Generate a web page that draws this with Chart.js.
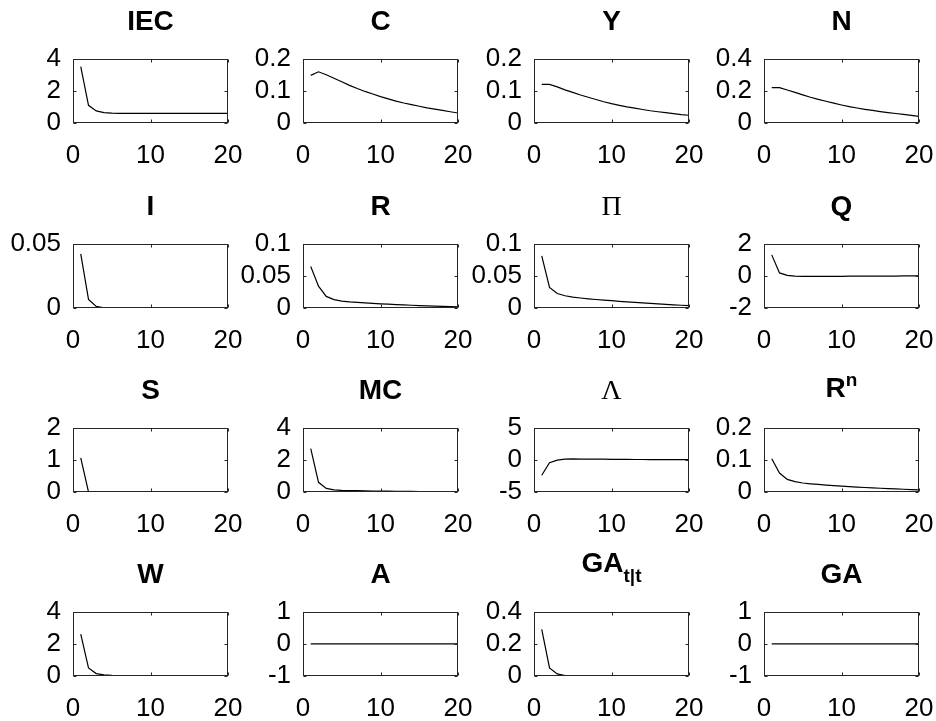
<!DOCTYPE html>
<html><head><meta charset="utf-8">
<script src="https://cdn.jsdelivr.net/npm/chart.js@4.4.0/dist/chart.umd.min.js"></script>
<style>
body{margin:0;background:#fff;width:936px;height:721px;position:relative;overflow:hidden;font-family:"Liberation Sans",Arial,Helvetica,sans-serif}
canvas{position:absolute}
.t{position:absolute;text-align:center;font-weight:bold;font-size:28px;color:#000;line-height:28px;white-space:nowrap;width:155px}
.t sup,.t sub{font-size:19px;line-height:0}
.t sup{vertical-align:11px}
.t sub{vertical-align:-10px}
.g{font-family:"Liberation Serif","Times New Roman",serif;font-weight:normal}
</style></head><body>
<script>
// ---- data (impulse responses, periods 1..20) ----
const periods = [1,2,3,4,5,6,7,8,9,10,11,12,13,14,15,16,17,18,19,20];
const xTickValues = [0,10,20];

const iecVals = [3.5,1.1,0.75,0.64,0.61,0.6,0.6,0.6,0.6,0.6,0.6,0.6,0.6,0.6,0.6,0.6,0.6,0.6,0.6,0.6];
const cVals   = [0.148,0.159,0.150,0.139,0.128,0.117,0.107,0.098,0.090,0.082,0.075,0.068,0.062,0.057,0.052,0.047,0.043,0.039,0.035,0.031];
const yVals   = [0.120,0.120,0.112,0.103,0.095,0.087,0.080,0.073,0.066,0.060,0.055,0.050,0.046,0.042,0.038,0.035,0.032,0.029,0.026,0.024];
const nVals   = [0.22,0.22,0.205,0.19,0.175,0.16,0.147,0.135,0.123,0.112,0.102,0.093,0.085,0.078,0.071,0.065,0.059,0.054,0.047,0.041];
const iVals   = [0.042,0.0067,0.0012,0.0002,0.00003,0,0,0,0,0,0,0,0,0,0,0,0,0,0,0];
const rVals   = [0.0645,0.034,0.018,0.013,0.0108,0.0096,0.0087,0.0079,0.0072,0.0065,0.0059,0.0053,0.0048,0.0043,0.0038,0.0033,0.0029,0.0025,0.0021,0.0017];
const piVals  = [0.081,0.032,0.0225,0.019,0.0168,0.0155,0.0143,0.0132,0.0122,0.0113,0.0104,0.0095,0.0087,0.0079,0.0071,0.0064,0.0057,0.0050,0.0043,0.0037];
const qVals   = [1.3,0.18,0.03,-0.02,-0.03,-0.03,-0.03,-0.03,-0.03,-0.03,-0.025,-0.025,-0.02,-0.02,-0.02,-0.015,-0.015,-0.01,-0.01,-0.01];
const sVals   = [1.06,0,0,0,0,0,0,0,0,0,0,0,0,0,0,0,0,0,0,0];
const mcVals  = [2.7,0.6,0.22,0.13,0.1,0.09,0.08,0.07,0.06,0.055,0.05,0.045,0.04,0.035,0.03,0.027,0.024,0.02,0.017,0.015];
const lamVals = [-2.4,-0.45,-0.05,0.1,0.13,0.12,0.11,0.1,0.09,0.08,0.07,0.06,0.05,0.05,0.04,0.04,0.03,0.03,0.02,0.02];
const rnVals  = [0.103,0.059,0.039,0.032,0.028,0.0255,0.0235,0.0215,0.0198,0.0182,0.0167,0.0153,0.014,0.0128,0.0116,0.0105,0.0095,0.0085,0.0076,0.0068];
const wVals   = [2.6,0.5,0.15,0.07,0.04,0.03,0.02,0.015,0.01,0.01,0.008,0.006,0.005,0.004,0.003,0.003,0.002,0.002,0.001,0.001];
const aVals   = [0,0,0,0,0,0,0,0,0,0,0,0,0,0,0,0,0,0,0,0];
const gattVals= [0.29,0.05,0.013,0.003,0.0007,0,0,0,0,0,0,0,0,0,0,0,0,0,0,0];
const gaVals  = [0,0,0,0,0,0,0,0,0,0,0,0,0,0,0,0,0,0,0,0];

// titles and y tick labels per panel
const titles = ['IEC','C','Y','N','I','R','<span class="g">&Pi;</span>','Q','S','MC','<span class="g">&Lambda;</span>','R<sup>n</sup>','W','A','GA<sub>t|t</sub>','GA'];
const seriesList = [iecVals,cVals,yVals,nVals,iVals,rVals,piVals,qVals,sVals,mcVals,lamVals,rnVals,wVals,aVals,gattVals,gaVals];
const yTickLists = [
  [0,2,4],[0,0.1,0.2],[0,0.1,0.2],[0,0.2,0.4],
  [0,0.05],[0,0.05,0.1],[0,0.05,0.1],[-2,0,2],
  [0,1,2],[0,2,4],[-5,0,5],[0,0.1,0.2],
  [0,2,4],[-1,0,1],[0,0.2,0.4],[-1,0,1]
];

// ---- layout ----
const colLeft = [73,303,534,764];
const rowTop  = [43,228,412,596];
const PW = 155, PH = 80;
const YAXW = 70, PADT = 12, PADR = 40, XAXH = 48;

const tickFont = {family:'"Liberation Sans", Arial, Helvetica, sans-serif', size:26};

const framePlugin = {
  id:'frame',
  afterDatasetsDraw(chart){
    const {ctx, chartArea:a, scales} = chart;
    const L = Math.round(a.left)+0.5, R = Math.round(a.right)-0.5, T = Math.round(a.top)+0.5, B = Math.round(a.bottom)-0.5;
    ctx.save();
    ctx.strokeStyle = '#262626';
    ctx.lineWidth = 1;
    ctx.strokeRect(L, T, R-L, B-T);
    const tl = 3;
    ctx.beginPath();
    scales.x.ticks.forEach(t=>{
      const px = Math.round(scales.x.getPixelForValue(t.value))+0.5;
      ctx.moveTo(px,B); ctx.lineTo(px,B-tl);
      ctx.moveTo(px,T); ctx.lineTo(px,T+tl);
    });
    scales.y.ticks.forEach(t=>{
      const py = Math.round(scales.y.getPixelForValue(t.value))+0.5;
      ctx.moveTo(L,py); ctx.lineTo(L+tl,py);
      ctx.moveTo(R,py); ctx.lineTo(R-tl,py);
    });
    ctx.stroke();
    ctx.restore();
  }
};

seriesList.forEach((vals, k)=>{
  const r = Math.floor(k/4), c = k%4;
  const left = colLeft[c], top = rowTop[r];
  const cv = document.createElement('canvas');
  cv.width = YAXW + PW + PADR; cv.height = PADT + PH + XAXH;
  cv.style.left = (left - YAXW) + 'px';
  cv.style.top = (top - PADT) + 'px';
  document.body.appendChild(cv);

  const tdiv = document.createElement('div');
  tdiv.className = 't';
  tdiv.innerHTML = titles[k];
  tdiv.style.left = left + 'px';
  let shift = 0;
  if (titles[k].indexOf('<sub>') >= 0) shift = 11;
  else if (titles[k].indexOf('<sup>') >= 0) shift = 2;
  tdiv.style.top = (top - 36 - shift) + 'px';
  document.body.appendChild(tdiv);

  const yt = yTickLists[k];
  new Chart(cv, {
    type:'line',
    data:{ datasets:[{ data: periods.map((p,i)=>({x:p, y:vals[i]})), borderColor:'#000', borderWidth:1.2, pointRadius:0, tension:0, fill:false }]},
    options:{
      responsive:false, animation:false, events:[],
      layout:{padding:{left:0, top:PADT, right:PADR, bottom:0}},
      plugins:{legend:{display:false}, tooltip:{enabled:false}, title:{display:false}},
      scales:{
        x:{type:'linear', min:0, max:20,
           afterBuildTicks: ax=>{ ax.ticks = xTickValues.map(v=>({value:v})); },
           afterFit: ax=>{ ax.height = XAXH; },
           grid:{display:false, drawTicks:false}, border:{display:false},
           ticks:{font:tickFont, color:'#000', padding:17, maxRotation:0, autoSkip:false, callback:v=>String(v)}},
        y:{type:'linear', min:yt[0], max:yt[yt.length-1],
           afterBuildTicks: ax=>{ ax.ticks = yt.map(v=>({value:v})); },
           afterFit: ax=>{ ax.width = YAXW; },
           grid:{display:false, drawTicks:false}, border:{display:false},
           ticks:{font:tickFont, color:'#000', padding:12, autoSkip:false, callback:v=>String(v)}}
      }
    },
    plugins:[framePlugin]
  });
});
</script>
</body></html>
